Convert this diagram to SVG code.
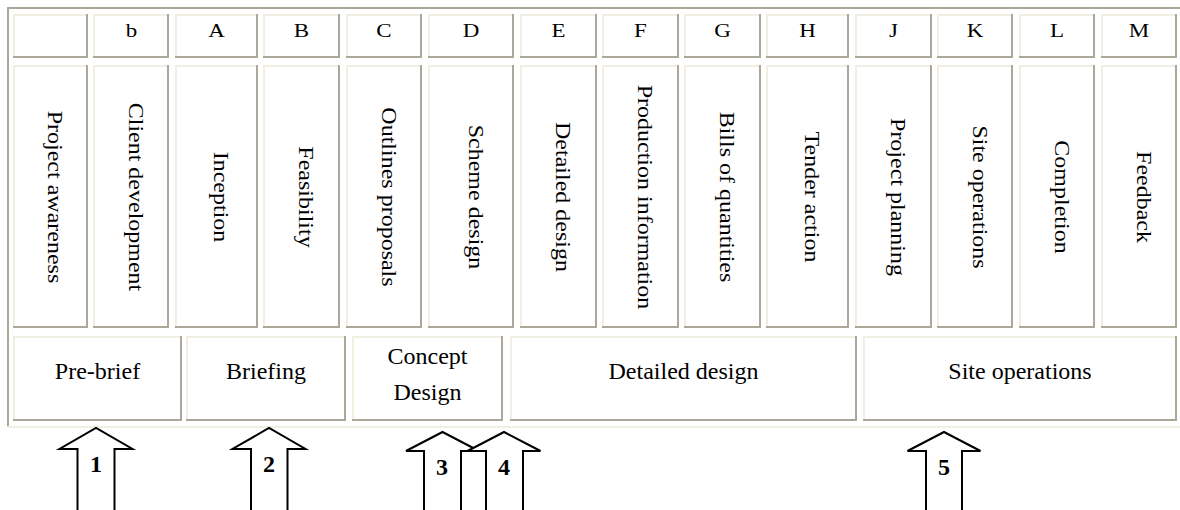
<svg xmlns="http://www.w3.org/2000/svg" width="1180" height="510" viewBox="0 0 1180 510">
  <style>
    .cell rect { fill: #ffffff; }
    .hi { fill: none; stroke: #f1efe2; stroke-width: 2; }
    .lo { fill: none; stroke: #aca899; stroke-width: 2; }
    text { font-family: "Liberation Serif", "Times New Roman", serif; fill: #000000; }
    .hd { font-size: 23px; text-anchor: middle; }
    .vt { font-size: 24px; text-anchor: middle; }
    .ph { font-size: 24px; text-anchor: middle; }
    .arrow path { fill: #ffffff; stroke: #000000; stroke-width: 2; stroke-linejoin: miter; }
    .num { font-size: 24px; font-weight: bold; text-anchor: middle; }
  </style>

  <rect x="0" y="0" width="1180" height="510" fill="#ffffff"/>

  <!-- outer table frame -->
  <g id="frame">
    <path class="lo" d="M8,428 V8 H1180"/>
    <path class="hi" d="M7,427 H1180"/>
  </g>

  <!-- stage letter row -->
  <g id="letters">
    <g id="h1" class="cell"><rect x="13" y="14" width="75" height="44"/><path class="hi" d="M14,58 V15 H88"/><path class="lo" d="M13,57 H87 V14"/></g>
    <g id="h2" class="cell"><rect x="93" y="14" width="76" height="44"/><path class="hi" d="M94,58 V15 H169"/><path class="lo" d="M93,57 H168 V14"/><text class="hd" transform="translate(131.5,37) scale(1,0.8)">b</text></g>
    <g id="h3" class="cell"><rect x="175" y="14" width="83" height="44"/><path class="hi" d="M176,58 V15 H258"/><path class="lo" d="M175,57 H257 V14"/><text class="hd" transform="translate(216.5,37) scale(1,0.8)">A</text></g>
    <g id="h4" class="cell"><rect x="263" y="14" width="77" height="44"/><path class="hi" d="M264,58 V15 H340"/><path class="lo" d="M263,57 H339 V14"/><text class="hd" transform="translate(301.5,37) scale(1,0.8)">B</text></g>
    <g id="h5" class="cell"><rect x="346" y="14" width="76" height="44"/><path class="hi" d="M347,58 V15 H422"/><path class="lo" d="M346,57 H421 V14"/><text class="hd" transform="translate(384,37) scale(1,0.8)">C</text></g>
    <g id="h6" class="cell"><rect x="428" y="14" width="86" height="44"/><path class="hi" d="M429,58 V15 H514"/><path class="lo" d="M428,57 H513 V14"/><text class="hd" transform="translate(471,37) scale(1,0.8)">D</text></g>
    <g id="h7" class="cell"><rect x="520" y="14" width="77" height="44"/><path class="hi" d="M521,58 V15 H597"/><path class="lo" d="M520,57 H596 V14"/><text class="hd" transform="translate(558.5,37) scale(1,0.8)">E</text></g>
    <g id="h8" class="cell"><rect x="602" y="14" width="77" height="44"/><path class="hi" d="M603,58 V15 H679"/><path class="lo" d="M602,57 H678 V14"/><text class="hd" transform="translate(640.5,37) scale(1,0.8)">F</text></g>
    <g id="h9" class="cell"><rect x="684" y="14" width="77" height="44"/><path class="hi" d="M685,58 V15 H761"/><path class="lo" d="M684,57 H760 V14"/><text class="hd" transform="translate(722.5,37) scale(1,0.8)">G</text></g>
    <g id="h10" class="cell"><rect x="766" y="14" width="83" height="44"/><path class="hi" d="M767,58 V15 H849"/><path class="lo" d="M766,57 H848 V14"/><text class="hd" transform="translate(807.5,37) scale(1,0.8)">H</text></g>
    <g id="h11" class="cell"><rect x="855" y="14" width="77" height="44"/><path class="hi" d="M856,58 V15 H932"/><path class="lo" d="M855,57 H931 V14"/><text class="hd" transform="translate(893.5,37) scale(1,0.8)">J</text></g>
    <g id="h12" class="cell"><rect x="937" y="14" width="76" height="44"/><path class="hi" d="M938,58 V15 H1013"/><path class="lo" d="M937,57 H1012 V14"/><text class="hd" transform="translate(975,37) scale(1,0.8)">K</text></g>
    <g id="h13" class="cell"><rect x="1019" y="14" width="76" height="44"/><path class="hi" d="M1020,58 V15 H1095"/><path class="lo" d="M1019,57 H1094 V14"/><text class="hd" transform="translate(1057,37) scale(1,0.8)">L</text></g>
    <g id="h14" class="cell"><rect x="1101" y="14" width="76" height="44"/><path class="hi" d="M1102,58 V15 H1177"/><path class="lo" d="M1101,57 H1176 V14"/><text class="hd" transform="translate(1139,37) scale(1,0.8)">M</text></g>
  </g>

  <!-- stage name row (vertical labels) -->
  <g id="stages">
    <g id="s1" class="cell"><rect x="13" y="65" width="75" height="263"/><path class="hi" d="M14,328 V66 H88"/><path class="lo" d="M13,327 H87 V65"/><text class="vt" transform="translate(48,197) rotate(90) scale(1,0.85)">Project awareness</text></g>
    <g id="s2" class="cell"><rect x="93" y="65" width="76" height="263"/><path class="hi" d="M94,328 V66 H169"/><path class="lo" d="M93,327 H168 V65"/><text class="vt" transform="translate(128.5,197) rotate(90) scale(1,0.85)">Client development</text></g>
    <g id="s3" class="cell"><rect x="175" y="65" width="83" height="263"/><path class="hi" d="M176,328 V66 H258"/><path class="lo" d="M175,327 H257 V65"/><text class="vt" transform="translate(214,197) rotate(90) scale(1,0.85)">Inception</text></g>
    <g id="s4" class="cell"><rect x="263" y="65" width="77" height="263"/><path class="hi" d="M264,328 V66 H340"/><path class="lo" d="M263,327 H339 V65"/><text class="vt" transform="translate(299,197) rotate(90) scale(1,0.85)">Feasibility</text></g>
    <g id="s5" class="cell"><rect x="346" y="65" width="76" height="263"/><path class="hi" d="M347,328 V66 H422"/><path class="lo" d="M346,327 H421 V65"/><text class="vt" transform="translate(381.5,197) rotate(90) scale(1,0.85)">Outlines proposals</text></g>
    <g id="s6" class="cell"><rect x="428" y="65" width="86" height="263"/><path class="hi" d="M429,328 V66 H514"/><path class="lo" d="M428,327 H513 V65"/><text class="vt" transform="translate(468.5,197) rotate(90) scale(1,0.85)">Scheme design</text></g>
    <g id="s7" class="cell"><rect x="520" y="65" width="77" height="263"/><path class="hi" d="M521,328 V66 H597"/><path class="lo" d="M520,327 H596 V65"/><text class="vt" transform="translate(556,197) rotate(90) scale(1,0.85)">Detailed design</text></g>
    <g id="s8" class="cell"><rect x="602" y="65" width="77" height="263"/><path class="hi" d="M603,328 V66 H679"/><path class="lo" d="M602,327 H678 V65"/><text class="vt" transform="translate(638,197) rotate(90) scale(1,0.85)">Production information</text></g>
    <g id="s9" class="cell"><rect x="684" y="65" width="77" height="263"/><path class="hi" d="M685,328 V66 H761"/><path class="lo" d="M684,327 H760 V65"/><text class="vt" transform="translate(720,197) rotate(90) scale(1,0.85)">Bills of quantities</text></g>
    <g id="s10" class="cell"><rect x="766" y="65" width="83" height="263"/><path class="hi" d="M767,328 V66 H849"/><path class="lo" d="M766,327 H848 V65"/><text class="vt" transform="translate(805,197) rotate(90) scale(1,0.85)">Tender action</text></g>
    <g id="s11" class="cell"><rect x="855" y="65" width="77" height="263"/><path class="hi" d="M856,328 V66 H932"/><path class="lo" d="M855,327 H931 V65"/><text class="vt" transform="translate(891,197) rotate(90) scale(1,0.85)">Project planning</text></g>
    <g id="s12" class="cell"><rect x="937" y="65" width="76" height="263"/><path class="hi" d="M938,328 V66 H1013"/><path class="lo" d="M937,327 H1012 V65"/><text class="vt" transform="translate(972.5,197) rotate(90) scale(1,0.85)">Site operations</text></g>
    <g id="s13" class="cell"><rect x="1019" y="65" width="76" height="263"/><path class="hi" d="M1020,328 V66 H1095"/><path class="lo" d="M1019,327 H1094 V65"/><text class="vt" transform="translate(1054.5,197) rotate(90) scale(1,0.85)">Completion</text></g>
    <g id="s14" class="cell"><rect x="1101" y="65" width="76" height="263"/><path class="hi" d="M1102,328 V66 H1177"/><path class="lo" d="M1101,327 H1176 V65"/><text class="vt" transform="translate(1136.5,197) rotate(90) scale(1,0.85)">Feedback</text></g>
  </g>

  <!-- phase row -->
  <g id="phases">
    <g id="p1" class="cell"><rect x="13" y="336" width="169" height="85"/><path class="hi" d="M14,421 V337 H182"/><path class="lo" d="M13,420 H181 V336"/><text class="ph" x="97.5" y="379">Pre-brief</text></g>
    <g id="p2" class="cell"><rect x="186" y="336" width="160" height="85"/><path class="hi" d="M187,421 V337 H346"/><path class="lo" d="M186,420 H345 V336"/><text class="ph" x="266" y="379">Briefing</text></g>
    <g id="p3" class="cell"><rect x="352" y="336" width="151" height="85"/><path class="hi" d="M353,421 V337 H503"/><path class="lo" d="M352,420 H502 V336"/><text class="ph" x="427.5" y="364">Concept</text><text class="ph" x="427.5" y="400">Design</text></g>
    <g id="p4" class="cell"><rect x="510" y="336" width="347" height="85"/><path class="hi" d="M511,421 V337 H857"/><path class="lo" d="M510,420 H856 V336"/><text class="ph" x="683.5" y="379">Detailed design</text></g>
    <g id="p5" class="cell"><rect x="863" y="336" width="314" height="85"/><path class="hi" d="M864,421 V337 H1177"/><path class="lo" d="M863,420 H1176 V336"/><text class="ph" x="1020" y="379">Site operations</text></g>
  </g>

  <!-- numbered block arrows -->
  <g id="arrows" class="arrow">
    <g id="a1"><path d="M77.5,514 V449 H59.5 L96,428 L132.5,449 H114.5 V514"/><text class="num" x="96" y="472">1</text></g>
    <g id="a2"><path d="M251,514 V449 H232.5 L269,428 L305.5,449 H287.5 V514"/><text class="num" x="269" y="472">2</text></g>
    <g id="a3"><path d="M424,514 V451 H406 L442.5,432 L479,451 H461 V514"/><text class="num" x="442" y="475">3</text></g>
    <g id="a4"><path d="M486,514 V451 H467.5 L504,432 L540.5,451 H523 V514"/><text class="num" x="504" y="475">4</text></g>
    <g id="a5"><path d="M926,514 V451 H907.5 L944,432 L980.5,451 H962 V514"/><text class="num" x="944" y="475">5</text></g>
  </g>
</svg>
